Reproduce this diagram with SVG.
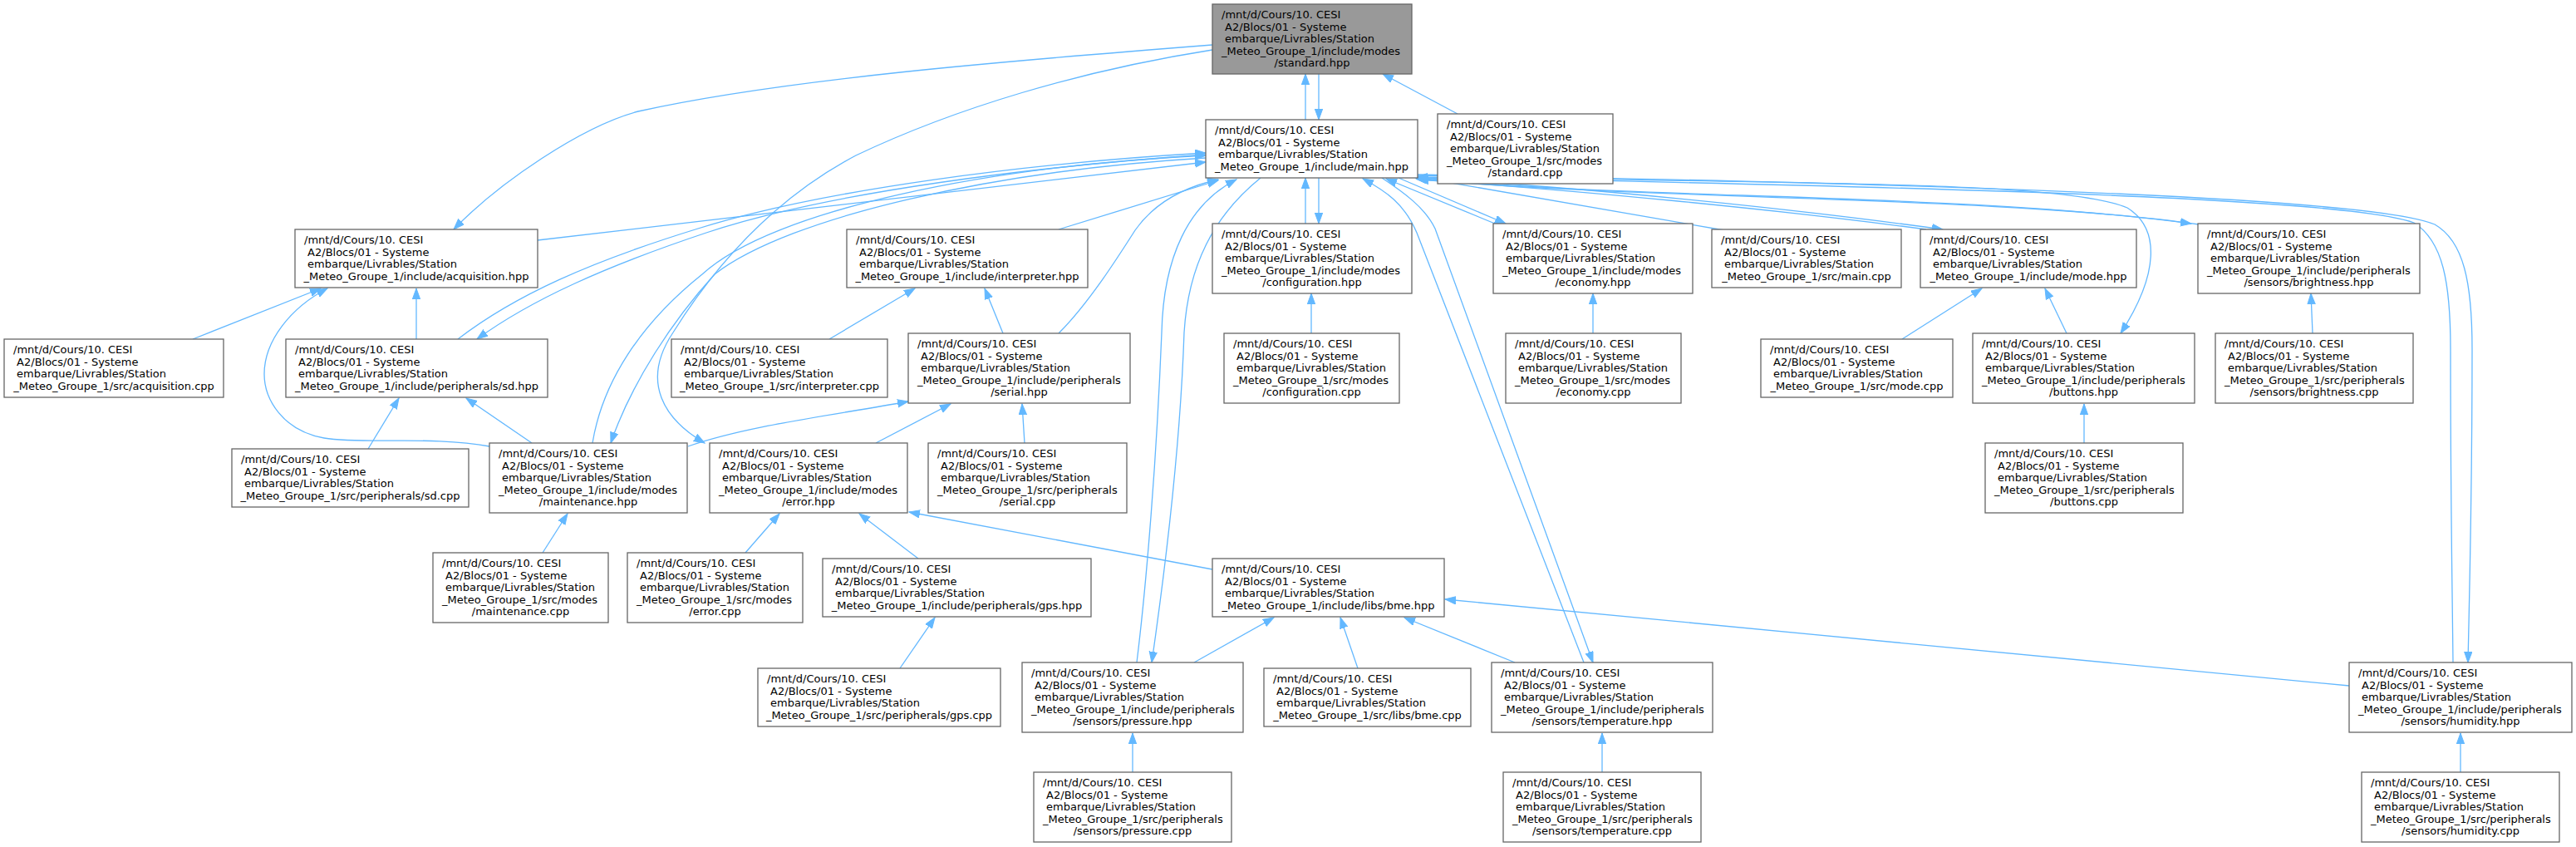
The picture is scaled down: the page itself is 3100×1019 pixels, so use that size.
<svg xmlns="http://www.w3.org/2000/svg" width="3100" height="1019" viewBox="0 0 3100 1019">
<style>
.n rect{fill:#ffffff;stroke:#666666;stroke-width:1.3}
.r rect{fill:#999999;stroke:#666666;stroke-width:1.3}
text{font-family:"DejaVu Sans","Liberation Sans",sans-serif;font-size:13px;fill:#000000}
.c{text-anchor:middle}
#edges path{fill:none;stroke:#63b8ff;stroke-width:1.3;marker-end:url(#ah)}
</style>
<defs>
<marker id="ah" markerUnits="userSpaceOnUse" markerWidth="15" markerHeight="11" refX="13" refY="5" orient="auto">
<path d="M0,0.3 L13,5 L0,9.7 z" fill="#63b8ff" stroke="#63b8ff" stroke-width="1"/>
</marker>
</defs>
<rect x="0" y="0" width="3100" height="1019" fill="#ffffff"/>
<g id="edges">
<path d="M1571,144 L1571,89"/>
<path d="M1587,89 L1587,144"/>
<path d="M1754,137 L1664,89"/>
<path d="M1459,54 C1216,73 943,95 768,134 C700,152 600,220 546,276"/>
<path d="M1459,60 C1300,85 1150,130 1030,187 C930,240 860,320 810,400 C770,460 800,505 848,533"/>
<path d="M647,289 L1451,195"/>
<path d="M1451,186 C1250,200 1000,230 850,280 C730,320 640,360 574,408"/>
<path d="M551,408 C620,355 710,315 840,275 C990,228 1240,196 1451,184"/>
<path d="M1451,190 C1200,205 950,260 860,330 C810,385 760,460 735,533"/>
<path d="M713,533 C725,460 770,390 845,330 C930,252 1190,200 1451,187"/>
<path d="M1274,276 L1466,217"/>
<path d="M1274,401 C1310,365 1345,310 1366,277 C1390,243 1425,225 1466,216"/>
<path d="M1368,797 C1380,700 1392,550 1398,400 C1400,310 1430,245 1488,216"/>
<path d="M1517,214 C1460,260 1430,320 1425,400 C1420,550 1400,700 1386,797"/>
<path d="M1571,269 L1571,214"/>
<path d="M1587,214 L1587,269"/>
<path d="M1906,797 L1705,280 C1690,245 1668,230 1640,215"/>
<path d="M1663,214 C1690,232 1715,250 1727,275 L1917,797"/>
<path d="M1799,269 L1668,215"/>
<path d="M1683,214 L1812,269"/>
<path d="M2075,277 L1706,213"/>
<path d="M1706,214 C1900,225 2150,250 2338,276"/>
<path d="M2318,276 C2140,252 1890,228 1706,216"/>
<path d="M1706,212 C1900,240 2350,230 2637,269"/>
<path d="M2646,270 C2400,235 1950,240 1704,215"/>
<path d="M1706,211 C2100,222 2480,215 2560,250 C2600,275 2598,330 2552,401"/>
<path d="M1706,210 C2400,222 2860,240 2930,270 C2965,290 2975,340 2975,420 C2975,600 2972,700 2970,797"/>
<path d="M2952,797 C2951,700 2949,600 2949,420 C2949,340 2940,290 2905,268 C2830,240 2400,226 1705,213"/>
<path d="M232,408 L386,347"/>
<path d="M998,408 L1101,347"/>
<path d="M1578,401 L1578,353"/>
<path d="M1917,401 L1917,353"/>
<path d="M2289,408 L2385,347"/>
<path d="M2783,401 L2781,353"/>
<path d="M443,540 L480,479"/>
<path d="M1233,533 L1230,486"/>
<path d="M2508,533 L2508,486"/>
<path d="M653,665 L683,618"/>
<path d="M897,665 L938,618"/>
<path d="M1083,804 L1125,743"/>
<path d="M1634,804 L1613,743"/>
<path d="M1363,929 L1363,882"/>
<path d="M1928,929 L1928,882"/>
<path d="M2961,929 L2961,882"/>
<path d="M501,408 L501,347"/>
<path d="M640,533 L561,479"/>
<path d="M1207,401 L1185,347"/>
<path d="M1054,533 L1144,486"/>
<path d="M828,537 C900,512 1000,500 1093,483"/>
<path d="M1459,685 L1094,616"/>
<path d="M1105,672 L1034,618"/>
<path d="M1437,797 L1533,743"/>
<path d="M1823,797 L1690,743"/>
<path d="M2827,825 L1739,721"/>
<path d="M2487,401 L2461,347"/>
<path d="M589,537 C520,524 440,535 390,527 C340,518 318,480 318,450 C318,410 350,370 394,347"/>
</g>
<g id="standard_hpp" class="r"><rect x="1459" y="5" width="240" height="84"/><text><tspan x="1470" y="22.2">/mnt/d/Cours/10. CESI</tspan><tspan x="1474.1" y="36.7">A2/Blocs/01 - Systeme</tspan><tspan x="1474.1" y="51.2">embarque/Livrables/Station</tspan><tspan x="1470" y="65.7">_Meteo_Groupe_1/include/modes</tspan><tspan class="c" x="1579" y="80.2">/standard.hpp</tspan></text></g>
<g id="main_hpp" class="n"><rect x="1451" y="144" width="255" height="70"/><text><tspan x="1462" y="161.2">/mnt/d/Cours/10. CESI</tspan><tspan x="1466.1" y="175.7">A2/Blocs/01 - Systeme</tspan><tspan x="1466.1" y="190.2">embarque/Livrables/Station</tspan><tspan class="c" x="1578.5" y="204.7">_Meteo_Groupe_1/include/main.hpp</tspan></text></g>
<g id="standard_cpp" class="n"><rect x="1730" y="137" width="211" height="84"/><text><tspan x="1741" y="154.2">/mnt/d/Cours/10. CESI</tspan><tspan x="1745.1" y="168.7">A2/Blocs/01 - Systeme</tspan><tspan x="1745.1" y="183.2">embarque/Livrables/Station</tspan><tspan x="1741" y="197.7">_Meteo_Groupe_1/src/modes</tspan><tspan class="c" x="1835.5" y="212.2">/standard.cpp</tspan></text></g>
<g id="acquisition_hpp" class="n"><rect x="355" y="276" width="292" height="70"/><text><tspan x="366" y="293.2">/mnt/d/Cours/10. CESI</tspan><tspan x="370.1" y="307.7">A2/Blocs/01 - Systeme</tspan><tspan x="370.1" y="322.2">embarque/Livrables/Station</tspan><tspan class="c" x="501" y="336.7">_Meteo_Groupe_1/include/acquisition.hpp</tspan></text></g>
<g id="interpreter_hpp" class="n"><rect x="1019" y="276" width="290" height="70"/><text><tspan x="1030" y="293.2">/mnt/d/Cours/10. CESI</tspan><tspan x="1034.1" y="307.7">A2/Blocs/01 - Systeme</tspan><tspan x="1034.1" y="322.2">embarque/Livrables/Station</tspan><tspan class="c" x="1164" y="336.7">_Meteo_Groupe_1/include/interpreter.hpp</tspan></text></g>
<g id="configuration_hpp" class="n"><rect x="1459" y="269" width="240" height="84"/><text><tspan x="1470" y="286.2">/mnt/d/Cours/10. CESI</tspan><tspan x="1474.1" y="300.7">A2/Blocs/01 - Systeme</tspan><tspan x="1474.1" y="315.2">embarque/Livrables/Station</tspan><tspan x="1470" y="329.7">_Meteo_Groupe_1/include/modes</tspan><tspan class="c" x="1579" y="344.2">/configuration.hpp</tspan></text></g>
<g id="economy_hpp" class="n"><rect x="1797" y="269" width="240" height="84"/><text><tspan x="1808" y="286.2">/mnt/d/Cours/10. CESI</tspan><tspan x="1812.1" y="300.7">A2/Blocs/01 - Systeme</tspan><tspan x="1812.1" y="315.2">embarque/Livrables/Station</tspan><tspan x="1808" y="329.7">_Meteo_Groupe_1/include/modes</tspan><tspan class="c" x="1917" y="344.2">/economy.hpp</tspan></text></g>
<g id="main_cpp" class="n"><rect x="2060" y="276" width="228" height="70"/><text><tspan x="2071" y="293.2">/mnt/d/Cours/10. CESI</tspan><tspan x="2075.1" y="307.7">A2/Blocs/01 - Systeme</tspan><tspan x="2075.1" y="322.2">embarque/Livrables/Station</tspan><tspan class="c" x="2174" y="336.7">_Meteo_Groupe_1/src/main.cpp</tspan></text></g>
<g id="mode_hpp" class="n"><rect x="2311" y="276" width="260" height="70"/><text><tspan x="2322" y="293.2">/mnt/d/Cours/10. CESI</tspan><tspan x="2326.1" y="307.7">A2/Blocs/01 - Systeme</tspan><tspan x="2326.1" y="322.2">embarque/Livrables/Station</tspan><tspan class="c" x="2441" y="336.7">_Meteo_Groupe_1/include/mode.hpp</tspan></text></g>
<g id="brightness_hpp" class="n"><rect x="2645" y="269" width="267" height="84"/><text><tspan x="2656" y="286.2">/mnt/d/Cours/10. CESI</tspan><tspan x="2660.1" y="300.7">A2/Blocs/01 - Systeme</tspan><tspan x="2660.1" y="315.2">embarque/Livrables/Station</tspan><tspan x="2656" y="329.7">_Meteo_Groupe_1/include/peripherals</tspan><tspan class="c" x="2778.5" y="344.2">/sensors/brightness.hpp</tspan></text></g>
<g id="acquisition_cpp" class="n"><rect x="5" y="408" width="264" height="70"/><text><tspan x="16" y="425.2">/mnt/d/Cours/10. CESI</tspan><tspan x="20.1" y="439.7">A2/Blocs/01 - Systeme</tspan><tspan x="20.1" y="454.2">embarque/Livrables/Station</tspan><tspan class="c" x="137" y="468.7">_Meteo_Groupe_1/src/acquisition.cpp</tspan></text></g>
<g id="sd_hpp" class="n"><rect x="344" y="408" width="315" height="70"/><text><tspan x="355" y="425.2">/mnt/d/Cours/10. CESI</tspan><tspan x="359.1" y="439.7">A2/Blocs/01 - Systeme</tspan><tspan x="359.1" y="454.2">embarque/Livrables/Station</tspan><tspan class="c" x="501.5" y="468.7">_Meteo_Groupe_1/include/peripherals/sd.hpp</tspan></text></g>
<g id="interpreter_cpp" class="n"><rect x="808" y="408" width="260" height="70"/><text><tspan x="819" y="425.2">/mnt/d/Cours/10. CESI</tspan><tspan x="823.1" y="439.7">A2/Blocs/01 - Systeme</tspan><tspan x="823.1" y="454.2">embarque/Livrables/Station</tspan><tspan class="c" x="938" y="468.7">_Meteo_Groupe_1/src/interpreter.cpp</tspan></text></g>
<g id="serial_hpp" class="n"><rect x="1093" y="401" width="267" height="84"/><text><tspan x="1104" y="418.2">/mnt/d/Cours/10. CESI</tspan><tspan x="1108.1" y="432.7">A2/Blocs/01 - Systeme</tspan><tspan x="1108.1" y="447.2">embarque/Livrables/Station</tspan><tspan x="1104" y="461.7">_Meteo_Groupe_1/include/peripherals</tspan><tspan class="c" x="1226.5" y="476.2">/serial.hpp</tspan></text></g>
<g id="configuration_cpp" class="n"><rect x="1473" y="401" width="211" height="84"/><text><tspan x="1484" y="418.2">/mnt/d/Cours/10. CESI</tspan><tspan x="1488.1" y="432.7">A2/Blocs/01 - Systeme</tspan><tspan x="1488.1" y="447.2">embarque/Livrables/Station</tspan><tspan x="1484" y="461.7">_Meteo_Groupe_1/src/modes</tspan><tspan class="c" x="1578.5" y="476.2">/configuration.cpp</tspan></text></g>
<g id="economy_cpp" class="n"><rect x="1812" y="401" width="211" height="84"/><text><tspan x="1823" y="418.2">/mnt/d/Cours/10. CESI</tspan><tspan x="1827.1" y="432.7">A2/Blocs/01 - Systeme</tspan><tspan x="1827.1" y="447.2">embarque/Livrables/Station</tspan><tspan x="1823" y="461.7">_Meteo_Groupe_1/src/modes</tspan><tspan class="c" x="1917.5" y="476.2">/economy.cpp</tspan></text></g>
<g id="mode_cpp" class="n"><rect x="2119" y="408" width="231" height="70"/><text><tspan x="2130" y="425.2">/mnt/d/Cours/10. CESI</tspan><tspan x="2134.1" y="439.7">A2/Blocs/01 - Systeme</tspan><tspan x="2134.1" y="454.2">embarque/Livrables/Station</tspan><tspan class="c" x="2234.5" y="468.7">_Meteo_Groupe_1/src/mode.cpp</tspan></text></g>
<g id="buttons_hpp" class="n"><rect x="2374" y="401" width="267" height="84"/><text><tspan x="2385" y="418.2">/mnt/d/Cours/10. CESI</tspan><tspan x="2389.1" y="432.7">A2/Blocs/01 - Systeme</tspan><tspan x="2389.1" y="447.2">embarque/Livrables/Station</tspan><tspan x="2385" y="461.7">_Meteo_Groupe_1/include/peripherals</tspan><tspan class="c" x="2507.5" y="476.2">/buttons.hpp</tspan></text></g>
<g id="brightness_cpp" class="n"><rect x="2666" y="401" width="238" height="84"/><text><tspan x="2677" y="418.2">/mnt/d/Cours/10. CESI</tspan><tspan x="2681.1" y="432.7">A2/Blocs/01 - Systeme</tspan><tspan x="2681.1" y="447.2">embarque/Livrables/Station</tspan><tspan x="2677" y="461.7">_Meteo_Groupe_1/src/peripherals</tspan><tspan class="c" x="2785" y="476.2">/sensors/brightness.cpp</tspan></text></g>
<g id="sd_cpp" class="n"><rect x="279" y="540" width="285" height="70"/><text><tspan x="290" y="557.2">/mnt/d/Cours/10. CESI</tspan><tspan x="294.1" y="571.7">A2/Blocs/01 - Systeme</tspan><tspan x="294.1" y="586.2">embarque/Livrables/Station</tspan><tspan class="c" x="421.5" y="600.7">_Meteo_Groupe_1/src/peripherals/sd.cpp</tspan></text></g>
<g id="maintenance_hpp" class="n"><rect x="589" y="533" width="238" height="84"/><text><tspan x="600" y="550.2">/mnt/d/Cours/10. CESI</tspan><tspan x="604.1" y="564.7">A2/Blocs/01 - Systeme</tspan><tspan x="604.1" y="579.2">embarque/Livrables/Station</tspan><tspan x="600" y="593.7">_Meteo_Groupe_1/include/modes</tspan><tspan class="c" x="708" y="608.2">/maintenance.hpp</tspan></text></g>
<g id="error_hpp" class="n"><rect x="854" y="533" width="238" height="84"/><text><tspan x="865" y="550.2">/mnt/d/Cours/10. CESI</tspan><tspan x="869.1" y="564.7">A2/Blocs/01 - Systeme</tspan><tspan x="869.1" y="579.2">embarque/Livrables/Station</tspan><tspan x="865" y="593.7">_Meteo_Groupe_1/include/modes</tspan><tspan class="c" x="973" y="608.2">/error.hpp</tspan></text></g>
<g id="serial_cpp" class="n"><rect x="1117" y="533" width="239" height="84"/><text><tspan x="1128" y="550.2">/mnt/d/Cours/10. CESI</tspan><tspan x="1132.1" y="564.7">A2/Blocs/01 - Systeme</tspan><tspan x="1132.1" y="579.2">embarque/Livrables/Station</tspan><tspan x="1128" y="593.7">_Meteo_Groupe_1/src/peripherals</tspan><tspan class="c" x="1236.5" y="608.2">/serial.cpp</tspan></text></g>
<g id="buttons_cpp" class="n"><rect x="2389" y="533" width="238" height="84"/><text><tspan x="2400" y="550.2">/mnt/d/Cours/10. CESI</tspan><tspan x="2404.1" y="564.7">A2/Blocs/01 - Systeme</tspan><tspan x="2404.1" y="579.2">embarque/Livrables/Station</tspan><tspan x="2400" y="593.7">_Meteo_Groupe_1/src/peripherals</tspan><tspan class="c" x="2508" y="608.2">/buttons.cpp</tspan></text></g>
<g id="maintenance_cpp" class="n"><rect x="521" y="665" width="211" height="84"/><text><tspan x="532" y="682.2">/mnt/d/Cours/10. CESI</tspan><tspan x="536.1" y="696.7">A2/Blocs/01 - Systeme</tspan><tspan x="536.1" y="711.2">embarque/Livrables/Station</tspan><tspan x="532" y="725.7">_Meteo_Groupe_1/src/modes</tspan><tspan class="c" x="626.5" y="740.2">/maintenance.cpp</tspan></text></g>
<g id="error_cpp" class="n"><rect x="755" y="665" width="211" height="84"/><text><tspan x="766" y="682.2">/mnt/d/Cours/10. CESI</tspan><tspan x="770.1" y="696.7">A2/Blocs/01 - Systeme</tspan><tspan x="770.1" y="711.2">embarque/Livrables/Station</tspan><tspan x="766" y="725.7">_Meteo_Groupe_1/src/modes</tspan><tspan class="c" x="860.5" y="740.2">/error.cpp</tspan></text></g>
<g id="gps_hpp" class="n"><rect x="990" y="672" width="323" height="70"/><text><tspan x="1001" y="689.2">/mnt/d/Cours/10. CESI</tspan><tspan x="1005.1" y="703.7">A2/Blocs/01 - Systeme</tspan><tspan x="1005.1" y="718.2">embarque/Livrables/Station</tspan><tspan class="c" x="1151.5" y="732.7">_Meteo_Groupe_1/include/peripherals/gps.hpp</tspan></text></g>
<g id="bme_hpp" class="n"><rect x="1459" y="672" width="279" height="70"/><text><tspan x="1470" y="689.2">/mnt/d/Cours/10. CESI</tspan><tspan x="1474.1" y="703.7">A2/Blocs/01 - Systeme</tspan><tspan x="1474.1" y="718.2">embarque/Livrables/Station</tspan><tspan class="c" x="1598.5" y="732.7">_Meteo_Groupe_1/include/libs/bme.hpp</tspan></text></g>
<g id="gps_cpp" class="n"><rect x="912" y="804" width="292" height="70"/><text><tspan x="923" y="821.2">/mnt/d/Cours/10. CESI</tspan><tspan x="927.1" y="835.7">A2/Blocs/01 - Systeme</tspan><tspan x="927.1" y="850.2">embarque/Livrables/Station</tspan><tspan class="c" x="1058" y="864.7">_Meteo_Groupe_1/src/peripherals/gps.cpp</tspan></text></g>
<g id="pressure_hpp" class="n"><rect x="1230" y="797" width="266" height="84"/><text><tspan x="1241" y="814.2">/mnt/d/Cours/10. CESI</tspan><tspan x="1245.1" y="828.7">A2/Blocs/01 - Systeme</tspan><tspan x="1245.1" y="843.2">embarque/Livrables/Station</tspan><tspan x="1241" y="857.7">_Meteo_Groupe_1/include/peripherals</tspan><tspan class="c" x="1363" y="872.2">/sensors/pressure.hpp</tspan></text></g>
<g id="bme_cpp" class="n"><rect x="1521" y="804" width="249" height="70"/><text><tspan x="1532" y="821.2">/mnt/d/Cours/10. CESI</tspan><tspan x="1536.1" y="835.7">A2/Blocs/01 - Systeme</tspan><tspan x="1536.1" y="850.2">embarque/Livrables/Station</tspan><tspan class="c" x="1645.5" y="864.7">_Meteo_Groupe_1/src/libs/bme.cpp</tspan></text></g>
<g id="temperature_hpp" class="n"><rect x="1795" y="797" width="266" height="84"/><text><tspan x="1806" y="814.2">/mnt/d/Cours/10. CESI</tspan><tspan x="1810.1" y="828.7">A2/Blocs/01 - Systeme</tspan><tspan x="1810.1" y="843.2">embarque/Livrables/Station</tspan><tspan x="1806" y="857.7">_Meteo_Groupe_1/include/peripherals</tspan><tspan class="c" x="1928" y="872.2">/sensors/temperature.hpp</tspan></text></g>
<g id="humidity_hpp" class="n"><rect x="2827" y="797" width="268" height="84"/><text><tspan x="2838" y="814.2">/mnt/d/Cours/10. CESI</tspan><tspan x="2842.1" y="828.7">A2/Blocs/01 - Systeme</tspan><tspan x="2842.1" y="843.2">embarque/Livrables/Station</tspan><tspan x="2838" y="857.7">_Meteo_Groupe_1/include/peripherals</tspan><tspan class="c" x="2961" y="872.2">/sensors/humidity.hpp</tspan></text></g>
<g id="pressure_cpp" class="n"><rect x="1244" y="929" width="238" height="84"/><text><tspan x="1255" y="946.2">/mnt/d/Cours/10. CESI</tspan><tspan x="1259.1" y="960.7">A2/Blocs/01 - Systeme</tspan><tspan x="1259.1" y="975.2">embarque/Livrables/Station</tspan><tspan x="1255" y="989.7">_Meteo_Groupe_1/src/peripherals</tspan><tspan class="c" x="1363" y="1004.2">/sensors/pressure.cpp</tspan></text></g>
<g id="temperature_cpp" class="n"><rect x="1809" y="929" width="238" height="84"/><text><tspan x="1820" y="946.2">/mnt/d/Cours/10. CESI</tspan><tspan x="1824.1" y="960.7">A2/Blocs/01 - Systeme</tspan><tspan x="1824.1" y="975.2">embarque/Livrables/Station</tspan><tspan x="1820" y="989.7">_Meteo_Groupe_1/src/peripherals</tspan><tspan class="c" x="1928" y="1004.2">/sensors/temperature.cpp</tspan></text></g>
<g id="humidity_cpp" class="n"><rect x="2842" y="929" width="238" height="84"/><text><tspan x="2853" y="946.2">/mnt/d/Cours/10. CESI</tspan><tspan x="2857.1" y="960.7">A2/Blocs/01 - Systeme</tspan><tspan x="2857.1" y="975.2">embarque/Livrables/Station</tspan><tspan x="2853" y="989.7">_Meteo_Groupe_1/src/peripherals</tspan><tspan class="c" x="2961" y="1004.2">/sensors/humidity.cpp</tspan></text></g>
</svg>
